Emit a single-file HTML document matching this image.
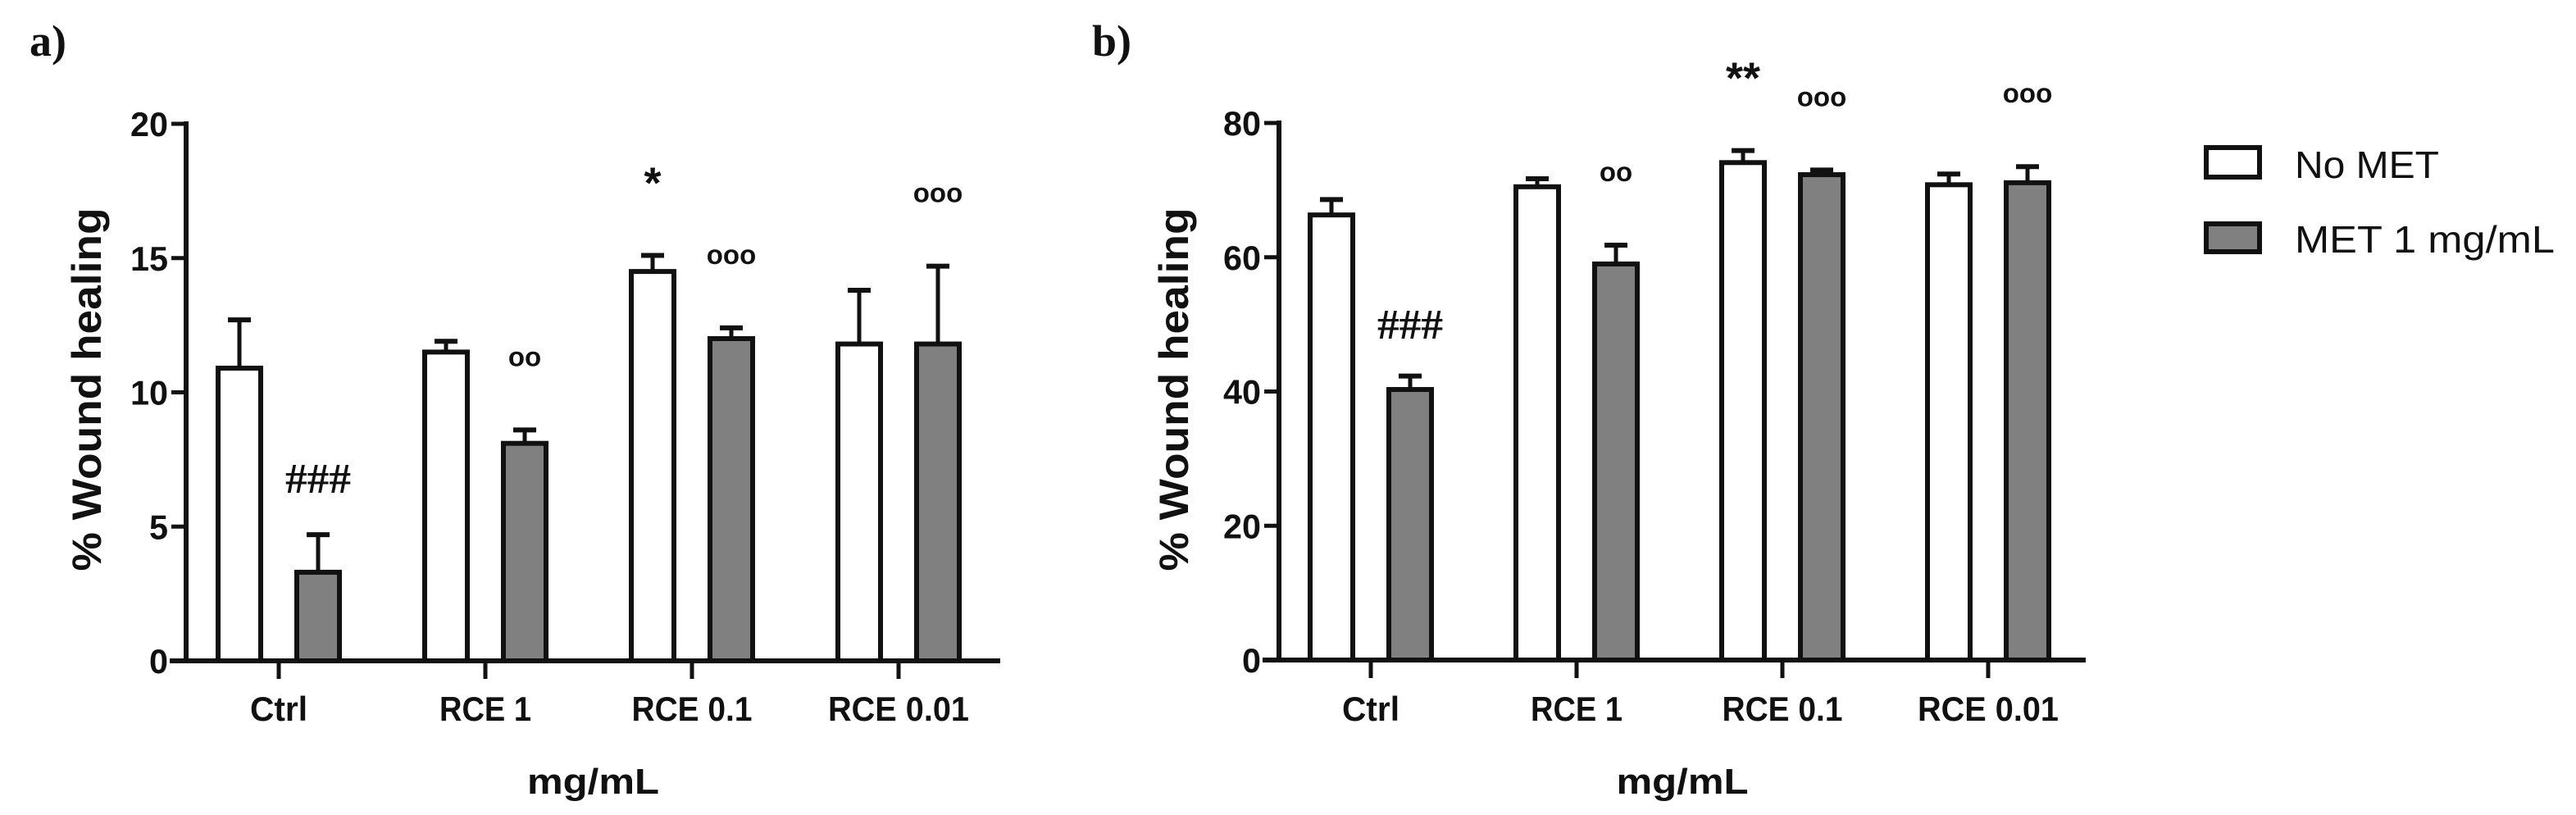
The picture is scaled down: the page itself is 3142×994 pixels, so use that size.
<!DOCTYPE html>
<html><head><meta charset="utf-8"><style>
html,body{margin:0;padding:0;background:#fff;}
svg{display:block;}
text{font-family:"Liberation Sans",sans-serif;fill:#111;}
</style></head><body>
<svg id="fig" width="3142" height="994" viewBox="0 0 3142 994" xmlns="http://www.w3.org/2000/svg"></svg>
<script>
const categories = ["Ctrl", "RCE 1", "RCE 0.1", "RCE 0.01"];
const aNoMet = [10.9, 11.5, 14.5, 11.8];
const aNoMetErr = [1.8, 0.4, 0.6, 2.0];
const aMet = [3.3, 8.1, 12.0, 11.8];
const aMetErr = [1.4, 0.5, 0.4, 2.9];
const aTicks = [0, 5, 10, 15, 20];
const aNotes = [["", "###"], ["", "oo"], ["*", "ooo"], ["", "ooo"]];
const bNoMet = [66.3, 70.5, 74.1, 70.8];
const bNoMetErr = [2.3, 1.2, 1.8, 1.6];
const bMet = [40.3, 59.0, 72.3, 71.1];
const bMetErr = [2.0, 2.8, 0.7, 2.4];
const bTicks = [0, 20, 40, 60, 80];
const bNotes = [["", "###"], ["", "oo"], ["**", "ooo"], ["", "ooo"]];
const legendLabels = ["No MET", "MET 1 mg/mL"];

const NS = "http://www.w3.org/2000/svg";
const svg = document.getElementById("fig");
function mk(tag, attrs, parent) {
  const e = document.createElementNS(NS, tag);
  for (const k in attrs) e.setAttribute(k, attrs[k]);
  (parent || svg).appendChild(e);
  return e;
}
const catLens = [70, 112, 147, 172];

function panel(cfg) {
  const g = mk("g", {});
  
  
  const y = v => cfg.y0 - (v / cfg.max) * (cfg.y0 - cfg.yTop);
  const cx = i => cfg.c0 + i * cfg.pitch;
  // panel label
  const pl = mk("text", {x: cfg.labelX, y: 68, "font-size": 54, "font-weight": "bold", style: "font-family:'Liberation Serif',serif"}, g);
  pl.textContent = cfg.label;
  
  
  // bars
  for (let i = 0; i < categories.length; i++) {
    const series = [[cfg.noMet, cfg.noMetErr, "#fff", -77], [cfg.met, cfg.metErr, "#808080", 19]];
    series.forEach((s, k) => {
      const v = s[0][i], e = s[1][i];
      const x = cx(i) + s[3];
      const et = y(v + e);
      const el = mk("line", {x1: x + 29, x2: x + 29, y1: y(v), y2: et, stroke: "#111", "stroke-width": 5}, g);
      
      
      const cap = mk("line", {x1: x + 15, x2: x + 43, y1: et, y2: et, stroke: "#111", "stroke-width": 6}, g);
      
      
      const r = mk("rect", {x: x + 3, y: y(v), width: 52, height: cfg.y0 - y(v), fill: s[2], stroke: "#111", "stroke-width": 6}, g);
      
      
      // annotations
      const note = cfg.notes[i][k];
      if (note) {
        const top = et;
        let t;
        if (note[0] === "#") {
          t = mk("text", {x: x + 29, y: cfg.hashY, "text-anchor": "middle", "font-size": 52, "font-weight": "bold", style: "font-family:'Liberation Serif',serif", textLength: 80, lengthAdjust: "spacingAndGlyphs"}, g);
        } else if (note[0] === "*") {
          t = mk("text", {x: x + 29, y: top - 70, "text-anchor": "middle", "font-size": 54, "font-weight": "bold"}, g);
        } else {
          t = mk("text", {x: x + 29, y: top - 78, "text-anchor": "middle", "font-size": 33, "font-weight": "bold", fill: "#222"}, g);
        }
        t.textContent = note;
        
        
      }
    });
    const tk = mk("line", {x1: cx(i), x2: cx(i), y1: cfg.y0, y2: cfg.y0 + 22, stroke: "#111", "stroke-width": 5}, g);
    
    
    const cl = mk("text", {x: cx(i), y: 879, "text-anchor": "middle", "font-size": 42, "font-weight": "bold", textLength: catLens[i], lengthAdjust: "spacingAndGlyphs"}, g);
    cl.textContent = categories[i];
    
    
  }
  // axes
  const ya = mk("line", {x1: cfg.ax, x2: cfg.ax, y1: cfg.yTop - 3, y2: cfg.y0 + 3, stroke: "#111", "stroke-width": 6}, g);
  
  
  const xa = mk("line", {x1: cfg.ax - 20, x2: cfg.axEnd, y1: cfg.y0, y2: cfg.y0, stroke: "#111", "stroke-width": 6}, g);
  
  
  cfg.ticks.forEach(t => {
    const l = mk("line", {x1: cfg.ax - 18, x2: cfg.ax, y1: y(t), y2: y(t), stroke: "#111", "stroke-width": 5}, g);
    
    
    const tl = mk("text", {x: cfg.ax - 22, y: y(t) + 15, "text-anchor": "end", "font-size": 42, "font-weight": "bold", textLength: String(t).length * 23, lengthAdjust: "spacingAndGlyphs"}, g);
    tl.textContent = t;
    
    
  });
  const yt = mk("text", {transform: `translate(${cfg.titleX},475) rotate(-90)`, "text-anchor": "middle", "font-size": 50, "font-weight": "bold", textLength: 443, lengthAdjust: "spacingAndGlyphs"}, g);
  yt.textContent = "% Wound healing";
  
  
  const xt = mk("text", {x: (cfg.ax + cfg.axEnd) / 2, y: 968, "text-anchor": "middle", "font-size": 44, "font-weight": "bold", textLength: 161, lengthAdjust: "spacingAndGlyphs"}, g);
  xt.textContent = "mg/mL";
  
  
}

panel({name: "panel-a", label: "a)", labelX: 36, noMet: aNoMet, noMetErr: aNoMetErr, met: aMet, metErr: aMetErr,
  ticks: aTicks, notes: aNotes, max: 20, y0: 806, yTop: 151, ax: 227, axEnd: 1220, c0: 340, pitch: 252, titleX: 123, hashY: 601});
panel({name: "panel-b", label: "b)", labelX: 1332, noMet: bNoMet, noMetErr: bNoMetErr, met: bMet, metErr: bMetErr,
  ticks: bTicks, notes: bNotes, max: 80, y0: 805, yTop: 150, ax: 1560, axEnd: 2544, c0: 1672, pitch: 251, titleX: 1449, hashY: 413});

// legend
const lg = mk("g", {});


[["#fff", 177, 217, 176], ["#808080", 270, 308, 317]].forEach((d, i) => {
  const r = mk("rect", {x: 2691, y: d[1] + 3, width: 65, height: d[2] - d[1] - 4, fill: d[0], stroke: "#111", "stroke-width": 6}, lg);
  
  
  const t = mk("text", {x: 2799, y: d[2], "font-size": 46, textLength: d[3], lengthAdjust: "spacingAndGlyphs"}, lg);
  t.textContent = legendLabels[i];
  
  
});
</script>
</body></html>
